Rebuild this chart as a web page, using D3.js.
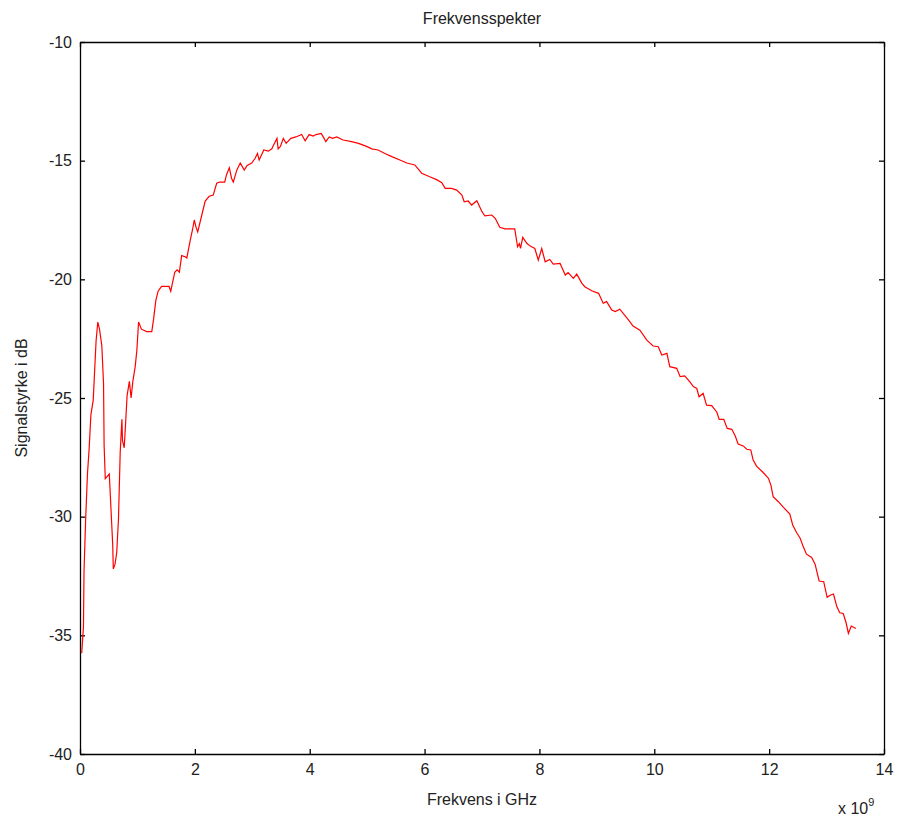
<!DOCTYPE html>
<html>
<head>
<meta charset="utf-8">
<script src="https://cdn.jsdelivr.net/npm/d3@7"></script>
<style>
  body { margin: 0; background: #fff; }
  svg text { font-family: "Liberation Sans", Arial, sans-serif; fill: #222; }
</style>
</head>
<body>
<svg id="chart" width="897" height="823"></svg>
<script>
// frequency in GHz (axis shows x 10^9 Hz) and signal strength in dB
const freqGHz = [
  0.03, 0.06, 0.07, 0.10, 0.13, 0.16, 0.19, 0.23, 0.25, 0.28, 0.31, 0.34, 0.38, 0.41, 0.42, 0.44,
  0.51, 0.53, 0.57, 0.58, 0.61, 0.64, 0.67, 0.70, 0.73, 0.74, 0.77, 0.80, 0.82, 0.86, 0.89, 0.92,
  0.96, 0.99, 1.02, 1.07, 1.16, 1.25, 1.28, 1.32, 1.36, 1.42, 1.55, 1.58, 1.65, 1.69, 1.73, 1.77,
  1.83, 1.86, 1.92, 1.96, 1.99, 2.02, 2.05, 2.12, 2.18, 2.25, 2.32, 2.38, 2.43, 2.52, 2.55, 2.60,
  2.64, 2.67, 2.73, 2.79, 2.86, 2.91, 2.99, 3.05, 3.09, 3.12, 3.16, 3.20, 3.28, 3.34, 3.38, 3.43,
  3.45, 3.49, 3.54, 3.59, 3.67, 3.76, 3.86, 3.92, 3.99, 4.06, 4.11, 4.20, 4.25, 4.28, 4.34, 4.40,
  4.47, 4.58, 4.73, 4.85, 4.99, 5.08, 5.19, 5.31, 5.43, 5.57, 5.69, 5.83, 5.95, 6.09, 6.21, 6.30,
  6.36, 6.47, 6.56, 6.65, 6.69, 6.76, 6.82, 6.91, 7.00, 7.05, 7.17, 7.23, 7.31, 7.40, 7.57, 7.62,
  7.65, 7.67, 7.71, 7.78, 7.84, 7.92, 7.98, 8.04, 8.10, 8.18, 8.24, 8.36, 8.45, 8.50, 8.59, 8.65,
  8.74, 8.79, 8.91, 9.03, 9.11, 9.17, 9.26, 9.32, 9.40, 9.55, 9.63, 9.75, 9.87, 9.98, 10.07, 10.13,
  10.22, 10.27, 10.39, 10.45, 10.53, 10.62, 10.68, 10.74, 10.78, 10.85, 10.91, 11.00, 11.09, 11.13, 11.21, 11.27,
  11.35, 11.41, 11.46, 11.55, 11.61, 11.68, 11.72, 11.78, 11.90, 11.99, 12.03, 12.07, 12.16, 12.25, 12.36, 12.41,
  12.48, 12.54, 12.59, 12.65, 12.74, 12.80, 12.87, 12.95, 13.01, 13.07, 13.12, 13.18, 13.23, 13.29, 13.34, 13.38,
  13.43, 13.51
];
const signalDb = [
  -35.75, -34.65, -32.3, -30.0, -28.2, -27.1, -25.7, -25.1, -24.1, -22.6, -21.8, -22.1, -22.8, -24.4, -27.0, -28.4,
  -28.2, -29.2, -31.2, -32.2, -32.0, -31.5, -30.1, -27.3, -25.9, -26.8, -27.1, -25.8, -24.9, -24.3, -25.0, -24.3,
  -23.7, -23.0, -21.8, -22.1, -22.2, -22.2, -21.7, -20.9, -20.5, -20.3, -20.3, -20.5, -19.7, -19.6, -19.7, -19.0,
  -19.05, -19.1, -18.35, -17.9, -17.5, -17.8, -18.0, -17.3, -16.7, -16.5, -16.45, -15.95, -15.9, -15.9, -15.6, -15.3,
  -15.75, -15.9, -15.4, -15.1, -15.4, -15.2, -15.1, -14.9, -14.7, -14.97, -14.76, -14.55, -14.6, -14.5, -14.3, -14.06,
  -14.5, -14.4, -14.06, -14.27, -14.06, -14.0, -13.9, -14.16, -13.9, -13.96, -13.9, -13.85, -14.06, -14.2, -14.0, -14.06,
  -14.0, -14.13, -14.2, -14.27, -14.4, -14.5, -14.55, -14.7, -14.83, -14.97, -15.1, -15.18, -15.53, -15.68, -15.8, -15.93,
  -16.17, -16.17, -16.24, -16.45, -16.73, -16.7, -16.87, -16.69, -17.15, -17.33, -17.29, -17.43, -17.81, -17.87, -17.87, -18.63,
  -18.5, -18.7, -18.23, -18.48, -18.6, -18.7, -19.19, -18.7, -19.26, -19.16, -19.36, -19.33, -19.82, -19.72, -19.96, -19.78,
  -20.17, -20.31, -20.48, -20.59, -21.01, -20.94, -21.29, -21.36, -21.26, -21.71, -21.97, -22.14, -22.56, -22.81, -22.84, -23.19,
  -23.12, -23.68, -23.75, -24.1, -24.07, -24.32, -24.52, -24.6, -24.95, -24.8, -25.3, -25.32, -25.6, -25.9, -25.9, -26.28,
  -26.32, -26.6, -26.94, -27.02, -27.16, -27.19, -27.6, -27.87, -28.15, -28.39, -28.67, -29.16, -29.37, -29.61, -29.89, -30.35,
  -30.68, -30.91, -31.24, -31.58, -31.72, -32.0, -32.71, -32.74, -33.4, -33.3, -33.26, -33.8, -34.05, -34.08, -34.47, -34.92,
  -34.61, -34.71
];
const xTicks = [0, 2, 4, 6, 8, 10, 12, 14];
const yTicks = [-40, -35, -30, -25, -20, -15, -10];

const svg = d3.select("#chart");
const margin = { left: 80, top: 42, right: 13, bottom: 69 };
const width = 897 - margin.left - margin.right;
const height = 823 - margin.top - margin.bottom;

const x = d3.scaleLinear().domain([0, 14]).range([0, width]);
const y = d3.scaleLinear().domain([-40, -10]).range([height, 0]);

const g = svg.append("g").attr("transform", `translate(${margin.left},${margin.top})`);

// axes, MATLAB style: ticks pointing inward on every side, plain hyphen minus
const tickLen = 5;
const plain = d => String(d);
g.append("g")
    .attr("transform", `translate(0,${height})`)
    .call(d3.axisBottom(x).tickValues(xTicks).tickFormat(plain).tickSizeInner(-tickLen).tickSizeOuter(0).tickPadding(10));
g.append("g")
    .call(d3.axisTop(x).tickValues(xTicks).tickSizeInner(-tickLen).tickSizeOuter(0).tickFormat(""));
g.append("g")
    .call(d3.axisLeft(y).tickValues(yTicks).tickFormat(plain).tickSizeInner(-tickLen).tickSizeOuter(0).tickPadding(8));
g.append("g")
    .attr("transform", `translate(${width},0)`)
    .call(d3.axisRight(y).tickValues(yTicks).tickSizeInner(-tickLen).tickSizeOuter(0).tickFormat(""));

g.selectAll(".domain").attr("stroke", "#000").attr("stroke-width", 1.3);
g.selectAll(".tick line").attr("stroke", "#000").attr("stroke-width", 1.3);
g.selectAll(".tick text").style("font-size", "16px").attr("fill", "#222");

const line = d3.line()
    .x((d, i) => x(freqGHz[i]))
    .y(d => y(d));

g.append("path")
    .datum(signalDb)
    .attr("fill", "none")
    .attr("stroke", "#ff0000")
    .attr("stroke-width", 1.2)
    .attr("d", line);

// labels
svg.append("text")
    .attr("x", margin.left + width / 2).attr("y", 24)
    .attr("text-anchor", "middle").style("font-size", "16px")
    .text("Frekvensspekter");

svg.append("text")
    .attr("x", margin.left + width / 2).attr("y", 805)
    .attr("text-anchor", "middle").style("font-size", "16px")
    .text("Frekvens i GHz");

svg.append("text")
    .attr("transform", `translate(27,${margin.top + height / 2}) rotate(-90)`)
    .attr("text-anchor", "middle").style("font-size", "16px")
    .text("Signalstyrke i dB");

const exp = svg.append("text")
    .attr("x", 838).attr("y", 814).style("font-size", "16px");
exp.append("tspan").text("x 10");
exp.append("tspan").attr("dy", -8).style("font-size", "11px").text("9");
</script>
</body>
</html>
